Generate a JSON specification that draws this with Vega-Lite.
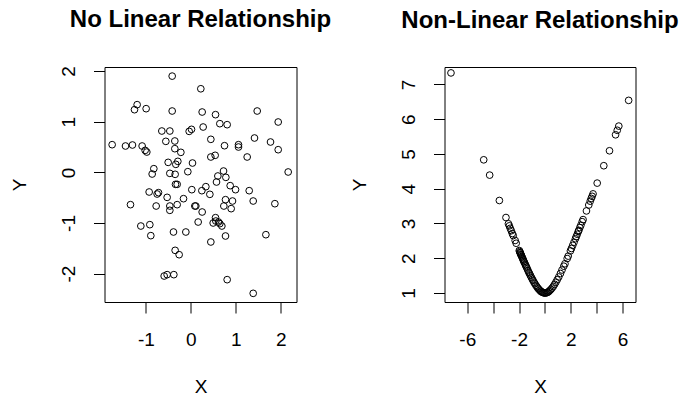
{
  "$schema": "https://vega.github.io/schema/vega-lite/v6.json",
  "background": "white",
  "padding": {"left": 9.5, "top": 7, "right": 5, "bottom": 5},
  "config": {
    "font": "Liberation Sans",
    "view": {"stroke": "black", "strokeWidth": 1},
    "axis": {
      "domain": false, "grid": false, "ticks": true, "tickColor": "black", "tickSize": 11, "tickWidth": 1,
      "labelFont": "Liberation Sans", "labelFontSize": 19, "labelColor": "black",
      "titleFont": "Liberation Sans", "titleFontSize": 19, "titleColor": "black", "titleFontWeight": "normal",
      "labelExpr": "datum.value + ''"
    },
    "axisX": {"labelPadding": 17, "titlePadding": 28, "labelFlush": false, "labelOverlap": false},
    "axisY": {"labelAngle": 270, "labelAlign": "center", "labelBaseline": "bottom", "labelPadding": 15, "titlePadding": 30, "labelOverlap": false},
    "title": {"font": "Liberation Sans", "fontSize": 24, "fontWeight": "bold", "color": "black", "anchor": "middle", "baseline": "alphabetic", "offset": 34}
  },
  "datasets": {
    "a": [
      {"x": -0.415, "y": 1.90}, {"x": 0.222, "y": 1.65}, {"x": -1.194, "y": 1.336}, {"x": -1.253, "y": 1.237},
      {"x": -0.994, "y": 1.257}, {"x": -0.415, "y": 1.211}, {"x": 0.252, "y": 1.191}, {"x": 0.549, "y": 1.139},
      {"x": 1.476, "y": 1.211}, {"x": 0.645, "y": 0.961}, {"x": 0.808, "y": 0.941}, {"x": 0.274, "y": 0.895},
      {"x": 1.943, "y": 0.994}, {"x": -0.645, "y": 0.816}, {"x": -0.467, "y": 0.816}, {"x": -0.037, "y": 0.809},
      {"x": 0.015, "y": 0.849}, {"x": 1.416, "y": 0.678}, {"x": 0.445, "y": 0.652}, {"x": -0.556, "y": 0.612},
      {"x": -0.356, "y": 0.619}, {"x": 1.772, "y": 0.599}, {"x": -1.750, "y": 0.546}, {"x": -1.453, "y": 0.520},
      {"x": -1.298, "y": 0.540}, {"x": -1.083, "y": 0.520}, {"x": -1.016, "y": 0.434}, {"x": -0.979, "y": 0.401},
      {"x": 1.060, "y": 0.546}, {"x": 1.060, "y": 0.500}, {"x": 0.749, "y": 0.526}, {"x": 1.943, "y": 0.447},
      {"x": -0.356, "y": 0.467}, {"x": -0.222, "y": 0.395}, {"x": 0.541, "y": 0.336}, {"x": 0.445, "y": 0.303},
      {"x": 1.253, "y": 0.303}, {"x": -0.289, "y": 0.217}, {"x": -0.504, "y": 0.197}, {"x": 0.037, "y": 0.184},
      {"x": -0.334, "y": 0.158}, {"x": -0.823, "y": 0.072}, {"x": -0.860, "y": -0.033}, {"x": -0.467, "y": -0.020},
      {"x": -0.349, "y": -0.039}, {"x": -0.067, "y": 0.013}, {"x": 0.727, "y": 0.026}, {"x": 2.165, "y": 0.007},
      {"x": 0.601, "y": -0.072}, {"x": 0.779, "y": -0.099}, {"x": 0.571, "y": -0.191}, {"x": -0.341, "y": -0.237},
      {"x": -0.304, "y": -0.237}, {"x": 0.334, "y": -0.283}, {"x": 0.875, "y": -0.263}, {"x": 0.994, "y": -0.342},
      {"x": 0.022, "y": -0.342}, {"x": 0.245, "y": -0.362}, {"x": 0.423, "y": -0.434}, {"x": -0.927, "y": -0.388},
      {"x": -0.749, "y": -0.428}, {"x": -0.719, "y": -0.401}, {"x": 1.298, "y": -0.362}, {"x": 1.387, "y": -0.566},
      {"x": -1.342, "y": -0.638}, {"x": -0.771, "y": -0.665}, {"x": -0.527, "y": -0.494}, {"x": -0.467, "y": -0.665},
      {"x": -0.467, "y": -0.750}, {"x": -0.304, "y": -0.638}, {"x": -0.163, "y": -0.520}, {"x": 0.089, "y": -0.665},
      {"x": 0.111, "y": -0.665}, {"x": 0.252, "y": -0.783}, {"x": 0.771, "y": -0.540}, {"x": 0.927, "y": -0.566},
      {"x": 0.734, "y": -0.665}, {"x": 0.897, "y": -0.717}, {"x": 1.869, "y": -0.619}, {"x": 0.163, "y": -0.981},
      {"x": 0.497, "y": -1.000}, {"x": 0.549, "y": -0.895}, {"x": 0.616, "y": -0.981}, {"x": 0.645, "y": -1.013},
      {"x": 0.690, "y": -1.060}, {"x": -1.112, "y": -1.060}, {"x": -0.912, "y": -1.033}, {"x": -0.890, "y": -1.250},
      {"x": -0.386, "y": -1.178}, {"x": -0.111, "y": -1.178}, {"x": 0.445, "y": -1.375}, {"x": 0.771, "y": -1.257},
      {"x": 1.669, "y": -1.231}, {"x": -0.349, "y": -1.540}, {"x": -0.260, "y": -1.626}, {"x": -0.593, "y": -2.047},
      {"x": -0.527, "y": -2.020}, {"x": -0.378, "y": -2.020}, {"x": 0.808, "y": -2.119}, {"x": 1.387, "y": -2.389},
      {"x": 0.556, "y": -0.961}
    ],
    "b": [
      {"x": -7.26, "y": 7.33}, {"x": -4.73, "y": 4.83}, {"x": -4.27, "y": 4.39}, {"x": -3.52, "y": 3.66},
      {"x": -3.01, "y": 3.17}, {"x": -2.82, "y": 2.99}, {"x": -2.75, "y": 2.93}, {"x": -2.68, "y": 2.86},
      {"x": -2.6, "y": 2.79}, {"x": -2.52, "y": 2.71}, {"x": -2.45, "y": 2.65}, {"x": -2.3, "y": 2.51},
      {"x": -2.22, "y": 2.43}, {"x": -1.98, "y": 2.22}, {"x": -1.95, "y": 2.19}, {"x": -1.92, "y": 2.16},
      {"x": -1.9, "y": 2.15}, {"x": -1.87, "y": 2.12}, {"x": -1.85, "y": 2.10}, {"x": -1.82, "y": 2.08},
      {"x": -1.78, "y": 2.04}, {"x": -1.74, "y": 2.01}, {"x": -1.7, "y": 1.97}, {"x": -1.66, "y": 1.94},
      {"x": -1.62, "y": 1.90}, {"x": -1.58, "y": 1.87}, {"x": -1.52, "y": 1.82}, {"x": -1.47, "y": 1.78},
      {"x": -1.42, "y": 1.74}, {"x": -1.36, "y": 1.69}, {"x": -1.3, "y": 1.64}, {"x": -1.24, "y": 1.59},
      {"x": -1.18, "y": 1.55}, {"x": -1.12, "y": 1.50}, {"x": -1.05, "y": 1.45}, {"x": -0.98, "y": 1.40},
      {"x": -0.92, "y": 1.36}, {"x": -0.85, "y": 1.31}, {"x": -0.78, "y": 1.27}, {"x": -0.7, "y": 1.22},
      {"x": -0.62, "y": 1.18}, {"x": -0.55, "y": 1.14}, {"x": -0.48, "y": 1.11}, {"x": -0.4, "y": 1.08},
      {"x": -0.33, "y": 1.05}, {"x": -0.26, "y": 1.03}, {"x": -0.18, "y": 1.02}, {"x": -0.12, "y": 1.01},
      {"x": -0.06, "y": 1.00}, {"x": 0.0, "y": 1.00}, {"x": 0.08, "y": 1.00}, {"x": 0.15, "y": 1.01},
      {"x": 0.22, "y": 1.02}, {"x": 0.3, "y": 1.04}, {"x": 0.38, "y": 1.07}, {"x": 0.46, "y": 1.10},
      {"x": 0.55, "y": 1.14}, {"x": 0.65, "y": 1.19}, {"x": 0.75, "y": 1.25}, {"x": 0.85, "y": 1.31},
      {"x": 0.95, "y": 1.38}, {"x": 1.07, "y": 1.46}, {"x": 1.2, "y": 1.56}, {"x": 1.32, "y": 1.66},
      {"x": 1.46, "y": 1.77}, {"x": 1.55, "y": 1.84}, {"x": 1.72, "y": 1.99}, {"x": 1.8, "y": 2.06},
      {"x": 1.97, "y": 2.21}, {"x": 2.05, "y": 2.28}, {"x": 2.15, "y": 2.37}, {"x": 2.25, "y": 2.46},
      {"x": 2.36, "y": 2.56}, {"x": 2.42, "y": 2.62}, {"x": 2.5, "y": 2.69}, {"x": 2.58, "y": 2.77},
      {"x": 2.62, "y": 2.80}, {"x": 2.7, "y": 2.88}, {"x": 2.78, "y": 2.95}, {"x": 2.88, "y": 3.05},
      {"x": 2.95, "y": 3.11}, {"x": 3.21, "y": 3.36}, {"x": 3.39, "y": 3.53}, {"x": 3.5, "y": 3.64},
      {"x": 3.58, "y": 3.72}, {"x": 3.65, "y": 3.78}, {"x": 3.72, "y": 3.85}, {"x": 4.04, "y": 4.16},
      {"x": 4.55, "y": 4.66}, {"x": 4.99, "y": 5.09}, {"x": 5.46, "y": 5.55}, {"x": 5.59, "y": 5.68},
      {"x": 5.71, "y": 5.80}, {"x": 6.47, "y": 6.54}
    ]
  },
  "hconcat": [
    {
      "title": "No Linear Relationship",
      "width": 192, "height": 235,
      "data": {"name": "a"},
      "mark": {"type": "point", "shape": "circle", "filled": false, "color": "black", "strokeWidth": 1, "size": 45, "opacity": 1},
      "encoding": {
        "x": {"field": "x", "type": "quantitative", "title": "X", "scale": {"domain": [-1.92, 2.35], "nice": false, "zero": false}, "axis": {"values": [-1, 0, 1, 2]}},
        "y": {"field": "y", "type": "quantitative", "title": "Y", "scale": {"domain": [-2.56, 2.08], "nice": false, "zero": false}, "axis": {"values": [-2, -1, 0, 1, 2]}}
      }
    },
    {
      "title": "Non-Linear Relationship",
      "width": 191, "height": 235,
      "data": {"name": "b"},
      "mark": {"type": "point", "shape": "circle", "filled": false, "color": "black", "strokeWidth": 1, "size": 45, "opacity": 1},
      "encoding": {
        "x": {"field": "x", "type": "quantitative", "title": "X", "scale": {"domain": [-7.76, 7.0], "nice": false, "zero": false}, "axis": {"values": [-6, -4, -2, 0, 2, 4, 6], "labelExpr": "(datum.value == -4 || datum.value == 0 || datum.value == 4) ? '' : datum.value + ''"}},
        "y": {"field": "y", "type": "quantitative", "title": "Y", "scale": {"domain": [0.74, 7.5], "nice": false, "zero": false}, "axis": {"values": [1, 2, 3, 4, 5, 6, 7]}}
      }
    }
  ],
  "spacing": 148,
  "bounds": "flush"
}
